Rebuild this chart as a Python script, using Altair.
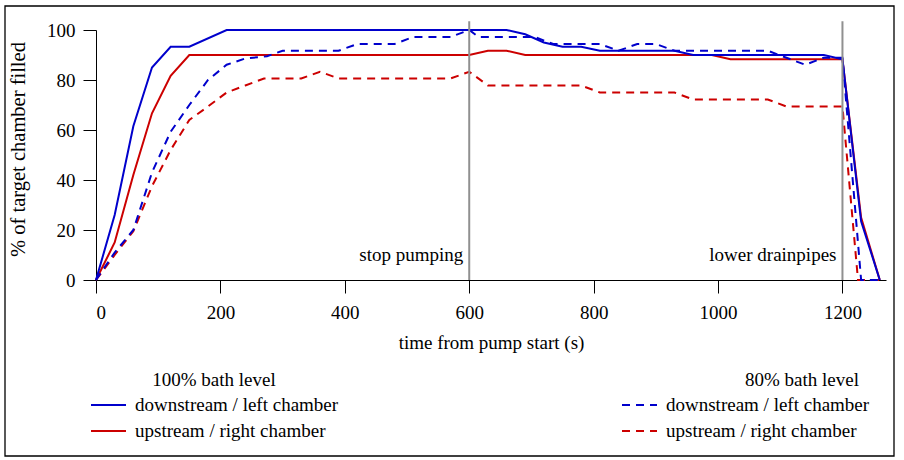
import altair as alt
import pandas as pd

FONT = "Liberation Serif"
FS = 19

DOWN = "downstream / left chamber"
UP = "upstream / right chamber"
# the 80% series use the same label text with a trailing space, so the two legends stay apart
DOWN80 = DOWN + " "
UP80 = UP + " "
BLUE = "#0000cc"
RED = "#cc0000"

# 100% bath level, downstream / left chamber
t_100_down = [0, 30, 60, 90, 120, 150, 210, 660, 690, 720, 750, 780, 810, 930, 960, 1170, 1200, 1230, 1260]
v_100_down = [0, 26, 61.5, 85, 93.3, 93.3, 100, 100, 98.3, 95, 93.3, 93.3, 91.7, 91.7, 90, 90, 88.3, 23.5, 0]

# 100% bath level, upstream / right chamber
t_100_up = [0, 30, 60, 90, 120, 150, 600, 630, 660, 690, 990, 1020, 1200, 1230, 1260]
v_100_up = [0, 15, 42, 66.7, 81.7, 90, 90, 91.7, 91.7, 90, 90, 88.3, 88.3, 25, 0]

# 80% bath level, downstream / left chamber
t_80_down = [0, 30, 60, 90, 120, 150, 180, 210, 240, 275, 300, 390, 420, 480, 510, 570, 600,
             615, 705, 735, 810, 840, 870, 900, 930, 1080, 1110, 1140, 1170, 1200, 1230, 1260]
v_80_down = [0, 11, 20, 43, 59.3, 70, 80, 86.1, 88.6, 89.5, 91.7, 91.7, 94.4, 94.4, 97.2, 97.2, 100,
             97.2, 97.2, 94.4, 94.4, 91.7, 94.4, 94.4, 91.7, 91.7, 88.9, 86.1, 88.9, 88.9, 0, 0]

# 80% bath level, upstream / right chamber
t_80_up = [0, 30, 60, 90, 120, 150, 180, 210, 240, 270, 330, 360, 390, 570, 600, 630, 780, 810,
           930, 960, 1080, 1110, 1200, 1225, 1260]
v_80_up = [0, 10, 19.5, 37.5, 52, 64, 69.4, 75, 77.8, 80.6, 80.6, 83.3, 80.6, 80.6, 83.3, 77.8, 77.8, 75,
           75, 72.2, 72.2, 69.4, 69.4, 0, 0]

# annotations
event_times = [600, 1200]
event_labels = ["stop pumping", "lower drainpipes"]
label_level = 7.5
rule_top = 103.5

x_ticks = [0, 200, 400, 600, 800, 1000, 1200]
y_ticks = [0, 20, 40, 60, 80, 100]


def series(ts, vs, field, chamber):
    return pd.DataFrame({"time": ts, "pct": vs, field: chamber})


X = alt.X("time:Q",
          scale=alt.Scale(domain=[0, 1270], nice=False, zero=False),
          axis=alt.Axis(values=x_ticks, title="time from pump start (s)", format="d",
                        titleY=62, titleBaseline="middle", labelPadding=10))
Y = alt.Y("pct:Q",
          scale=alt.Scale(domain=[0, 100], nice=False),
          axis=alt.Axis(values=y_ticks, title="% of target chamber filled",
                        titleX=-78, titleY=119, titleBaseline="middle", titleFontSize=20.5,
                        labelPadding=8))

legend100 = alt.Legend(title="100% bath level", orient="none", legendX=-6, legendY=341,
                       titleAnchor="middle", titleAlign="center")
legend80 = alt.Legend(title="80% bath level", orient="none", legendX=525, legendY=341,
                      titleAnchor="middle", titleAlign="left", symbolDash=[8, 6])

color100 = alt.Color("chamber100:N", scale=alt.Scale(domain=[DOWN, UP], range=[BLUE, RED]), legend=legend100)
stroke80 = alt.Stroke("chamber80:N", scale=alt.Scale(domain=[DOWN80, UP80], range=[BLUE, RED]), legend=legend80)

red80 = alt.Chart(series(t_80_up, v_80_up, "chamber80", UP80)).mark_line(strokeWidth=2, strokeDash=[8, 6]).encode(
    x=X, y=Y, stroke=stroke80)
red100 = alt.Chart(series(t_100_up, v_100_up, "chamber100", UP)).mark_line(strokeWidth=2).encode(
    x=X, y=Y, color=color100)
blue80 = alt.Chart(series(t_80_down, v_80_down, "chamber80", DOWN80)).mark_line(strokeWidth=2, strokeDash=[8, 6]).encode(
    x=X, y=Y, stroke=stroke80)
blue100 = alt.Chart(series(t_100_down, v_100_down, "chamber100", DOWN)).mark_line(strokeWidth=2).encode(
    x=X, y=Y, color=color100)

events = pd.DataFrame({"time": event_times, "label": event_labels,
                       "y0": [0, 0], "y1": [rule_top, rule_top], "ylab": [label_level, label_level]})
rules = alt.Chart(events).mark_rule(color="#909090", strokeWidth=2).encode(
    x=X, y=alt.Y("y0:Q", scale=alt.Scale(domain=[0, 100], nice=False)), y2="y1:Q")
texts = alt.Chart(events).mark_text(align="right", baseline="alphabetic", dx=-6, font=FONT,
                                    fontSize=FS, color="black").encode(
    x=X, y=alt.Y("ylab:Q", scale=alt.Scale(domain=[0, 100], nice=False)), text="label:N")

frame = alt.Chart(pd.DataFrame({"f": [0]})).mark_rect(fillOpacity=0, stroke="black", strokeWidth=1.3).encode(
    x=alt.value(-91), x2=alt.value(798), y=alt.value(-24), y2=alt.value(426))

chart = alt.layer(red80, red100, blue80, blue100, rules, texts, frame).properties(
    width=790, height=250,
    autosize=alt.AutoSizeParams(type="none"),
    padding={"left": 96, "top": 30, "right": 18, "bottom": 180},
    background="white",
).configure_view(strokeWidth=0).configure_axis(
    grid=False, domainColor="black", tickColor="black", tickSize=13, domainWidth=1, tickWidth=1,
    labelFont=FONT, labelFontSize=FS, labelColor="black",
    titleFont=FONT, titleFontSize=FS, titleFontWeight="normal", titleColor="black",
).configure_legend(
    labelFont=FONT, labelFontSize=FS, labelColor="black", labelLimit=400, labelOffset=8,
    titleFont=FONT, titleFontSize=FS, titleFontWeight="normal", titleColor="black", titleLimit=400,
    symbolType="stroke", symbolSize=1225, symbolStrokeWidth=2, clipHeight=24,
    rowPadding=2, titlePadding=3, padding=0,
)

chart.save("out.html", embed_options={"renderer": "svg", "actions": False})
